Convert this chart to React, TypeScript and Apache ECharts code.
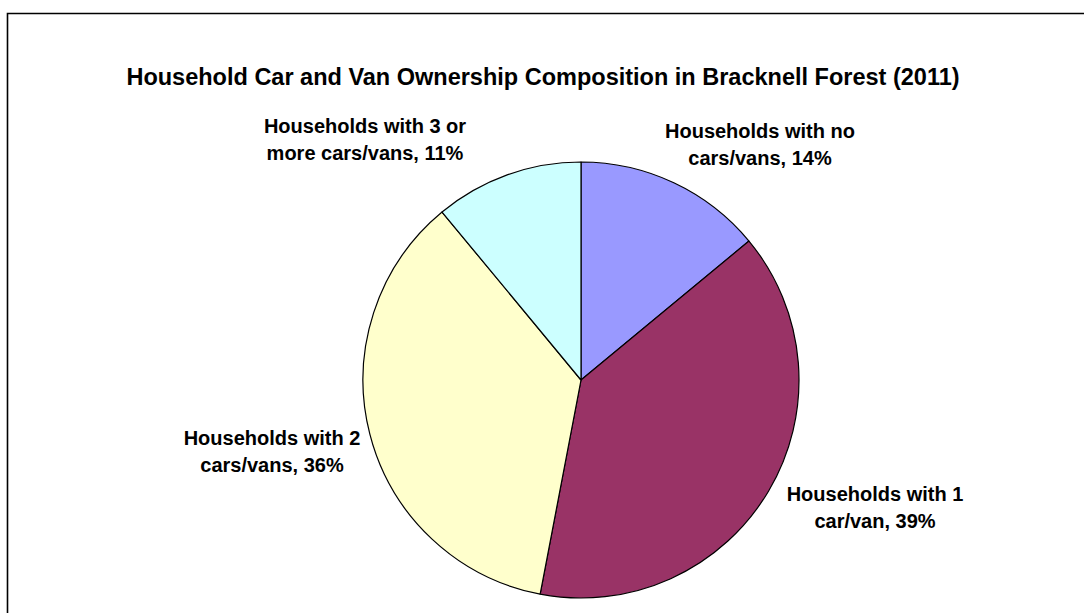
import React, { useEffect, useRef } from "react";
import * as echarts from "echarts";

const categories = [
  "Households with no\ncars/vans",
  "Households with 1\ncar/van",
  "Households with 2\ncars/vans",
  "Households with 3 or\nmore cars/vans",
];
const shares = [14, 39, 36, 11];
const colors = ["#9999FF", "#993366", "#FFFFCC", "#CCFFFF"];
const titleText = "Household Car and Van Ownership Composition in Bracknell Forest (2011)";

// label anchor points (layout, not data)
const labelAnchors = [
  [760, 144],
  [875, 507],
  [272, 451],
  [365, 139],
];

export default function App() {
  const ref = useRef<HTMLDivElement>(null);
  useEffect(() => {
    if (!ref.current) return;
    const chart = echarts.init(ref.current, undefined, { renderer: "svg" });
    const font = "'Liberation Sans', Arial, sans-serif";
    chart.setOption({
      animation: false,
      backgroundColor: "#ffffff",
      graphic: [
        {
          type: "rect",
          shape: { x: 7.5, y: 13.5, width: 1100, height: 700 },
          style: { fill: "none", stroke: "#000", lineWidth: 1.6 },
          z: 0,
        },
        {
          type: "text",
          x: 543,
          y: 77,
          style: {
            text: titleText,
            fontFamily: font,
            fontWeight: "bold",
            fontSize: 23.5,
            fill: "#000",
            align: "center",
            verticalAlign: "middle",
          },
        },
      ],
      series: [
        {
          type: "pie",
          center: [581, 380],
          radius: 218,
          startAngle: 90,
          clockwise: true,
          data: categories.map((c, i) => ({
            name: c,
            value: shares[i],
            itemStyle: { color: colors[i] },
          })),
          itemStyle: { borderColor: "#000", borderWidth: 1.2 },
          label: {
            show: true,
            position: "outside",
            formatter: (p: any) => `${p.name}, ${p.value}%`,
            fontFamily: font,
            fontWeight: "bold",
            fontSize: 20,
            lineHeight: 27,
            color: "#000",
            align: "center",
          },
          labelLine: { show: false },
          labelLayout: (params: any) => {
            const a = labelAnchors[params.dataIndex];
            return { x: a[0], y: a[1], align: "center", verticalAlign: "middle" };
          },
          emphasis: { disabled: true },
          silent: true,
        },
      ],
    });
    return () => chart.dispose();
  }, []);
  return (
    <div
      ref={ref}
      style={{ position: "fixed", left: 0, top: 0, width: 1084, height: 613 }}
    />
  );
}
